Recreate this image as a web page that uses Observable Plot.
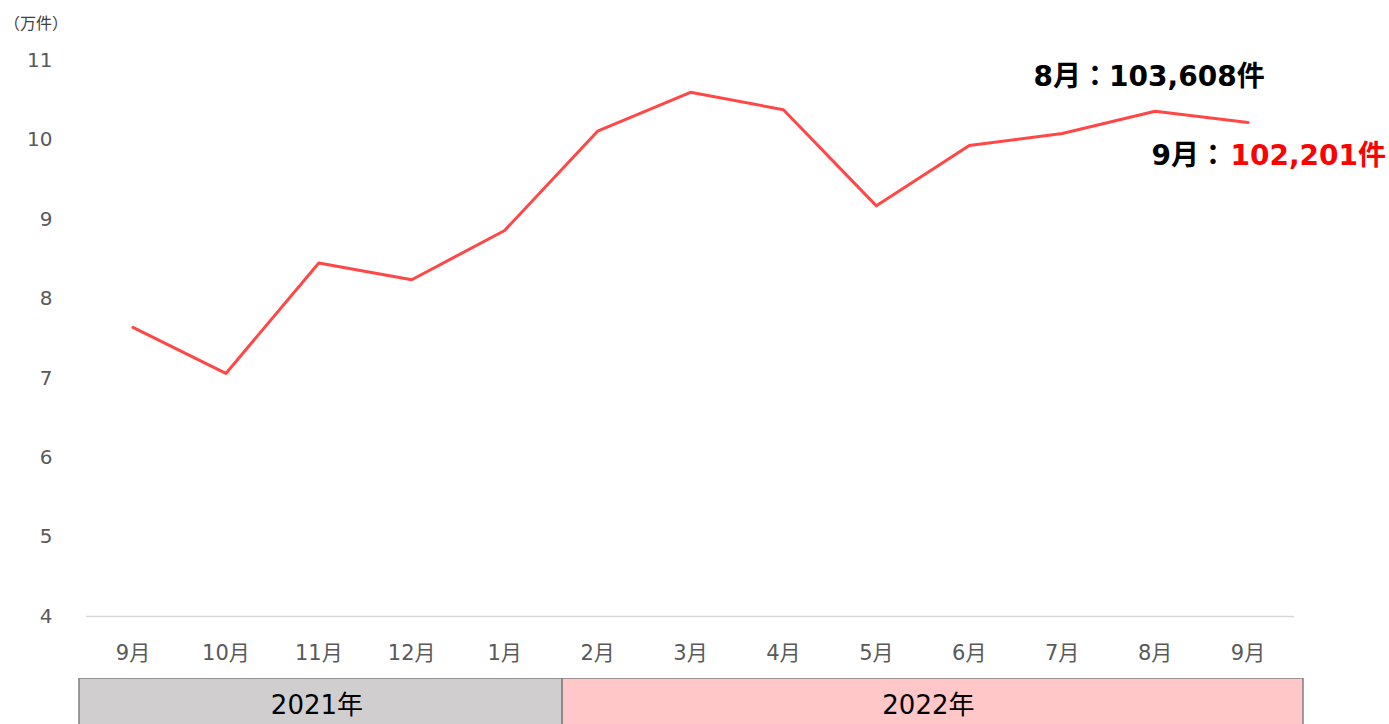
<!DOCTYPE html>
<html>
<head>
<meta charset="utf-8">
<script src="https://cdn.jsdelivr.net/npm/d3@7"></script>
<script src="https://cdn.jsdelivr.net/npm/@observablehq/plot@0.6"></script>
<style>
  html, body { margin: 0; padding: 0; background: #fff; }
  #wrap { position: relative; width: 1389px; height: 724px; overflow: hidden; font-family: "DejaVu Sans", "Noto Sans CJK JP", sans-serif; }
  #unit { position: absolute; left: 4px; top: 10px; font-size: 16px; color: #404040; font-family: "Noto Sans CJK JP", sans-serif; }
  #main { position: absolute; left: 0; top: 0; }
  #years { position: absolute; left: 0; top: 678px; }
</style>
</head>
<body>
<div id="wrap">
  <div id="main"></div>
  <div id="years"></div>
  <div id="unit">（万件）</div>
</div>
<script>
// Data (万件)
const months = ["9月","10月","11月","12月","1月","2月","3月","4月","5月","6月","7月","8月","9月"];
const values = [7.64, 7.06, 8.45, 8.24, 8.86, 10.11, 10.60, 10.38, 9.17, 9.93, 10.08, 10.3608, 10.2201];
const years = ["2021年", "2022年"];
const yearStart = [0, 5];   // index of first month in each year
const yearEnd = [4, 12];    // index of last month in each year
const yTicks = [4, 5, 6, 7, 8, 9, 10, 11];
const label8 = "8月：103,608件";
const label9a = "9月：";
const label9b = "102,201件";

const data = months.map((m, i) => ({key: i, month: m, value: values[i]}));
const W = 1389, ML = 86, MR = 95;
const FONT = '"DejaVu Sans", "Noto Sans CJK JP", sans-serif';

const main = Plot.plot({
  width: W,
  height: 678,
  marginLeft: ML,
  marginRight: MR,
  marginTop: 60,
  marginBottom: 62,
  style: {fontFamily: FONT, background: "transparent"},
  x: {type: "band", domain: d3.range(months.length), padding: 0, round: false},
  y: {domain: [4, 11]},
  marks: [
    Plot.axisX({tickFormat: i => months[i], tickSize: 0, tickPadding: 29, label: null, fontSize: 21, fill: "#595959"}),
    Plot.axisY(yTicks, {tickFormat: d => String(d), tickSize: 0, tickPadding: 34, label: null, fontSize: 20, fill: "#595959"}),
    Plot.ruleY([4], {stroke: "#d9d9d9", strokeWidth: 1.5}),
    Plot.lineY(data, {x: "key", y: "value", stroke: "#ff4747", strokeWidth: 3}),
    Plot.text([data[11]], {x: "key", y: "value", text: () => label8, dx: -6, dy: -34, fontSize: 28, fontWeight: "bold", fill: "#000"}),
    Plot.text([data[12]], {x: "key", y: "value", text: () => label9a, textAnchor: "end", dx: -21, dy: 34, fontSize: 28, fontWeight: "bold", fill: "#000"}),
    Plot.text([data[12]], {x: "key", y: "value", text: () => label9b, textAnchor: "end", dx: 138, dy: 34, fontSize: 28, fontWeight: "bold", fill: "#ff0000"})
  ]
});
document.getElementById("main").appendChild(main);

const yearData = years.map((y, i) => ({year: y, x1: yearStart[i] - 0.5, x2: yearEnd[i] + 0.5}));
const yr = Plot.plot({
  width: W,
  height: 60,
  marginLeft: ML,
  marginRight: MR,
  marginTop: 0,
  marginBottom: 0,
  style: {fontFamily: FONT, background: "transparent"},
  x: {domain: [-0.5, months.length - 0.5], axis: null},
  y: {domain: [0, 60], axis: null, reverse: true},
  marks: [
    Plot.rect(yearData.slice(0, 1), {x1: "x1", x2: "x2", y1: 0, y2: 60, fill: "#d0cece", stroke: "#808080", strokeWidth: 1.5, insetLeft: -7, insetRight: -11.5}),
    Plot.rect(yearData.slice(1), {x1: "x1", x2: "x2", y1: 0, y2: 60, fill: "#ffc7c7", stroke: "#808080", strokeWidth: 1.5, insetLeft: 11.5, insetRight: -9}),
    Plot.text(yearData, {x: (d, i) => (d.x1 + d.x2) / 2 + (i === 0 ? -0.02 : 0.06), y: 27, text: "year", fontSize: 26, fill: "#000"})
  ]
});
document.getElementById("years").appendChild(yr);
</script>
</body>
</html>
